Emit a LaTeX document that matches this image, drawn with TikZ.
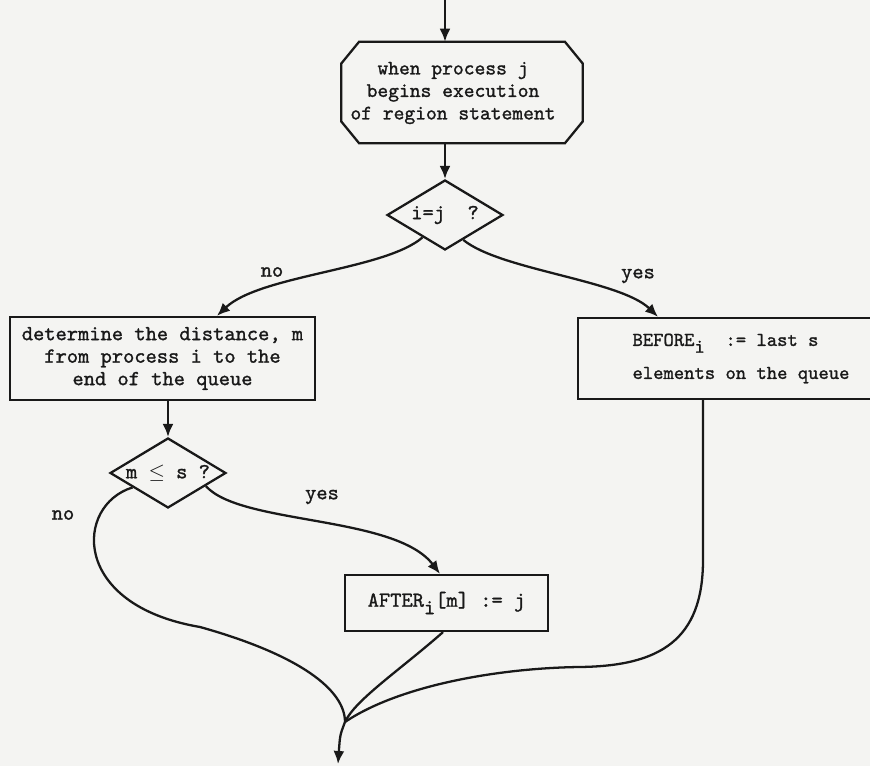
\documentclass[tikz,border=0pt]{standalone}
\usepackage{fontspec}
\usetikzlibrary{shapes.geometric,arrows.meta,calc}
\newfontfamily\tw[FakeBold=1.2]{lmmono10-regular.otf}
\definecolor{paper}{RGB}{244,244,242}
\definecolor{ink}{RGB}{25,25,25}
\newcommand\tyt{\fontsize{12.2}{12.8}\selectfont\tw}
\newcommand\tys{\fontsize{11.7}{12.8}\selectfont\tw}
\newcommand\tyb{\fontsize{11.2}{12.8}\selectfont\tw}
\tikzset{
  ln/.style={draw=ink, line width=1.3pt},
  arr/.style={ln, -{Latex[length=2.6mm,width=2.2mm]}},
  box/.style={draw=ink, line width=1.3pt, rectangle, inner sep=0pt, align=center, font=\tyt, text=ink},
  plain/.style={inner sep=0pt, align=center, font=\tys, text=ink},
  dec/.style={draw=ink, line width=1.3pt, diamond, aspect=1.66, inner sep=0pt,
              minimum width=2.32cm, minimum height=1.4cm, font=\tyt, text=ink},
  lab/.style={font=\tyt, text=ink, inner sep=0pt},
}
\begin{document}
\begin{tikzpicture}[x=0.02cm,y=-0.02cm]
\useasboundingbox (0,0) rectangle (870,766);
\fill[paper] (0,0) rectangle (870,766);

% start box (chamfered)
\node[minimum width=4.82cm, minimum height=2.02cm, inner sep=0pt] (top) at (462,92.5) {};
\draw[ln] ([xshift=0.36cm]top.north west) -- ([xshift=-0.36cm]top.north east)
  -- ([yshift=-0.44cm]top.north east) -- ([yshift=0.44cm]top.south east)
  -- ([xshift=-0.36cm]top.south east) -- ([xshift=0.36cm]top.south west)
  -- ([yshift=0.44cm]top.south west) -- ([yshift=-0.44cm]top.north west) -- cycle;
\node[plain] (toptext) at (453,93)
  {when process j\\begins execution\\of region statement};

\node[dec] (d1) at (445,215) {i=j\ \ ?};

\node[box, minimum width=6.1cm, minimum height=1.66cm] (b1) at (162.5,358.5)
  {determine the distance, m\\from process i to the\\end of the queue};

\node[box, align=left, font=\tyb, minimum width=6.52cm, minimum height=1.62cm] (before) at (741,358.5)
  {BEFORE\raisebox{-0.8ex}{i}\ \ := last s\\[6pt]elements on the queue};

\node[dec] (d2) at (168,473) {m $\leq$ s ?};

\node[box, minimum width=4.06cm, minimum height=1.12cm] (after) at (446.5,603)
  {AFTER\raisebox{-0.8ex}{i}[m] := j};

\node[lab] (no1) at (272,272) {no};
\node[lab] (yes1) at (638,276) {yes};
\node[lab] (yes2) at (322,497) {yes};
\node[lab] (no2) at (63,515) {no};

\coordinate (start) at (445,0);
\coordinate (m) at (345,722);
\coordinate (e) at (338,764);

% connectors
\draw[arr] (start) -- (start |- top.north);
\draw[arr] (d1 |- top.south) -- (d1.north);
\draw[arr] ($(d1.west)!0.62!(d1.south)$) .. controls (385,270) and (260,275) .. ([xshift=1.09cm]b1.north);
\draw[arr] ($(d1.east)!0.69!(d1.south)$) .. controls (500,270) and (620,280) .. ([xshift=-1.66cm]before.north);
\draw[arr] (d2 |- b1.south) -- (d2.north);
\draw[arr] ($(d2.east)!0.36!(d2.south)$) .. controls (240,525) and (395,515) .. ([xshift=-0.13cm]after.north);
\draw[ln] ($(d2.west)!0.4!(d2.south)$) .. controls (75,505) and (70,605) .. (200,627)
  .. controls (300,655) and (345,690) .. (m);
\draw[ln] ([xshift=-0.07cm]after.south) .. controls (400,670) and (355,700) .. (m);
\draw[ln] ([xshift=-0.76cm]before.south) -- (703,560) .. controls (703,640) and (660,666) .. (580,667)
  .. controls (500,668) and (400,685) .. (m);
\draw[arr] (m) .. controls (340,735) .. (e);
\end{tikzpicture}
\end{document}
